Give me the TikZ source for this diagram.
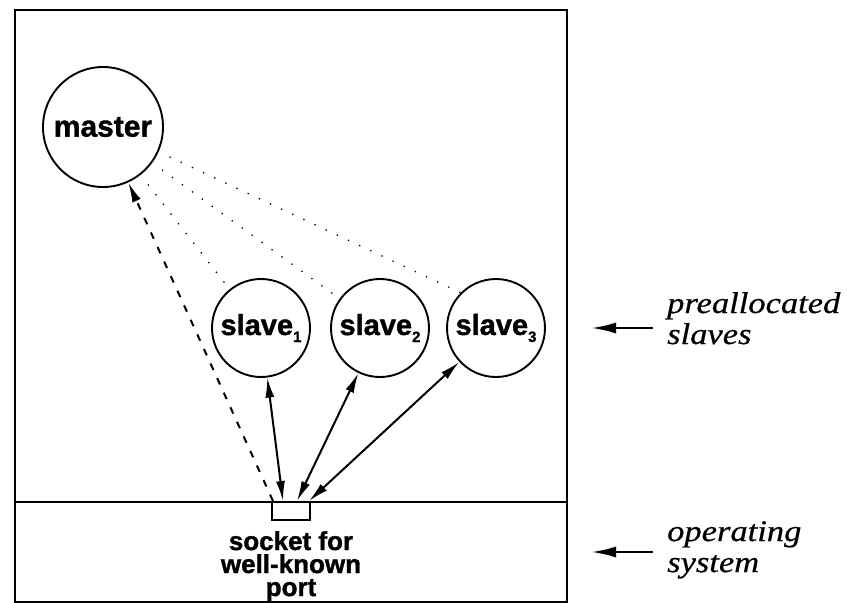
\documentclass[tikz,border=0pt]{standalone}
\usepackage{fontspec}
\setmainfont{Liberation Serif}
\setsansfont{Liberation Sans}
\newfontfamily\sidefont[FakeStretch=1.15,FakeBold=0.6]{Liberation Serif}
\newfontfamily\heavyfont[FakeBold=1.3]{Liberation Sans Bold}
\usetikzlibrary{arrows.meta,calc}
\newcommand\subidx[1]{\raisebox{-7pt}{\fontsize{15}{15}\selectfont #1}}
\begin{document}
\begin{tikzpicture}[x=1pt,y=-1pt,
  proc/.style={circle, draw, line width=1.9pt, inner sep=0pt,
    font=\heavyfont\fontsize{29}{29}\selectfont},
  link/.style={line width=2pt, {Latex[length=20pt,width=9pt]}-{Latex[length=20pt,width=9pt]}},
  dashlink/.style={line width=2pt, dash pattern=on 7pt off 9pt, -{Latex[length=20pt,width=9pt]}},
  dotlink/.style={line width=1.3pt, dash pattern=on 1.3pt off 11pt, shorten <=12pt},
  sidearrow/.style={line width=1.8pt, -{Latex[length=24pt,width=11pt]}},
  sidelabel/.style={font=\sidefont\itshape\fontsize{30}{31}\selectfont, align=left, inner sep=0pt, anchor=north west},
  frame/.style={line width=2pt}
]
\useasboundingbox (0,0) rectangle (847,603);
% frame
\draw[frame] (15,10) rectangle (567,602);
\draw[frame] (15,502) -- (567,502);
% processes
\node[proc, minimum size=120pt, font=\heavyfont\fontsize{30}{30}\selectfont] (master) at (103,127) {master};
\node[proc, minimum size=98pt] (slave1) at (261,328) {slave\subidx{1}};
\node[proc, minimum size=98pt] (slave2) at (380,328) {slave\subidx{2}};
\node[proc, minimum size=98pt] (slave3) at (496,328) {slave\subidx{3}};
% socket
\node[draw, line width=1.8pt, minimum width=38pt, minimum height=18pt, inner sep=0pt] (sock) at (291,511) {};
\coordinate (p0) at (273,501);
\coordinate (p1) at (283,501);
\coordinate (p2) at (297,501);
\coordinate (p3) at (309,501);
\node[font=\heavyfont\fontsize{26}{23}\selectfont, align=center, inner sep=0pt, anchor=north] (socklbl) at (291,531) {socket for\\well-known\\port};
% connectors
\draw[dashlink] (p0) -- (master);
\draw[link] (p1) -- (slave1);
\draw[link] (p2) -- (slave2);
\draw[link] (p3) -- (slave3);
\draw[dotlink] (master.-24.8) -- (slave3.135);
\draw[dotlink] (master.-36) -- (slave2.144);
\draw[dotlink] (master.-52) -- (slave1.129);
% side labels
\node[sidelabel] (slaveslbl) at (667,292) {preallocated\\slaves};
\node[sidelabel] (oslbl) at (667,521) {operating\\system};
\coordinate (a1s) at (653,328);
\coordinate (a1e) at (592,328);
\coordinate (a2s) at (653,552);
\coordinate (a2e) at (592,552);
\draw[sidearrow] (a1s) -- (a1e);
\draw[sidearrow] (a2s) -- (a2e);
\end{tikzpicture}
\end{document}
